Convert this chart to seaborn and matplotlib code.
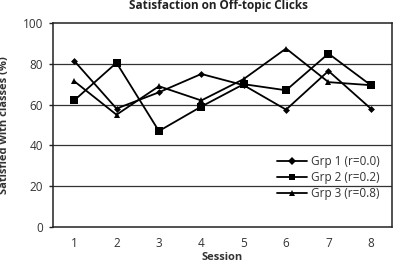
import pandas as pd
import seaborn as sns
import matplotlib
matplotlib.use("Agg")
from matplotlib import pyplot as plt

sessions = [1, 2, 3, 4, 5, 6, 7, 8]
grp1 = [81.5, 58, 66, 75, 69.5, 57.5, 76.5, 58]
grp2 = [62, 80.5, 47, 59, 70, 67, 85, 69.5]
grp3 = [71.5, 55, 69, 62, 72.5, 87.5, 71, 69.5]
names = ["Grp 1 (r=0.0)", "Grp 2 (r=0.2)", "Grp 3 (r=0.8)"]

df = pd.concat([
    pd.DataFrame({"Session": sessions, "Value": vals, "Group": n})
    for vals, n in zip([grp1, grp2, grp3], names)
])

sns.set_style("white")
plt.rcParams['font.family'] = ['Open Sans', 'DejaVu Sans']

fig = plt.figure(figsize=(3.98, 2.71), dpi=100)
ax = fig.add_axes([0.133, 0.163, 0.852, 0.752])

ax.set_ylim(0, 100)
ax.set_xlim(0.5, 8.5)
ax.set_yticks([0, 20, 40, 60, 80, 100])
ax.set_xticks(sessions)
for yv in [20, 40, 60, 80]:
    ax.axhline(yv, color='#333333', lw=0.9, zorder=0)

sns.lineplot(data=df, x="Session", y="Value", hue="Group", style="Group",
             palette=['black'] * 3, markers={names[0]: 'D', names[1]: 's', names[2]: '^'},
             dashes=False, markersize=4.5, lw=1.3, markeredgewidth=0, ax=ax)
# diamond a bit smaller
for line, ms in zip(ax.get_lines()[4:], [3.5, 5.5, 5]):
    line.set_markersize(ms)

for s in ax.spines.values():
    s.set_color('#222222')
    s.set_linewidth(1.1)

ax.tick_params(axis='y', which='major', left=True, length=3, width=1, color='#222222',
               labelsize=8.5, labelcolor='#333333', pad=4)
ax.tick_params(axis='x', length=0, labelsize=8.5, labelcolor='#333333', pad=7)

ax.set_xlabel("Session", fontsize=8, fontweight='bold', color='#333333', labelpad=2)
ax.set_ylabel("Satisfied with classes (%)", fontsize=8, fontweight='bold', color='#333333', labelpad=9)
fig.text(0.548, 0.978, "Satisfaction on Off-topic Clicks", fontsize=8.5, fontweight='bold',
         ha='center', va='center', color='#222222')

leg = ax.legend(loc='lower right', bbox_to_anchor=(0.995, 0.08), frameon=False, fontsize=8.5,
                handlelength=2.6, handletextpad=0.3, labelspacing=0.25)
for t in leg.get_texts():
    t.set_color('#333333')

fig.savefig("out.png", dpi=100)
